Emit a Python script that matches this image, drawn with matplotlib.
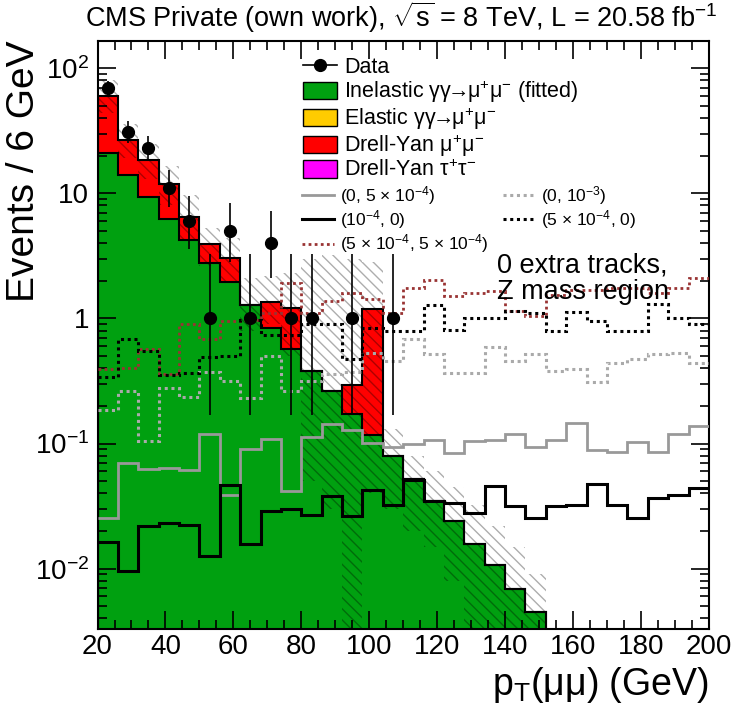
import numpy as np
import matplotlib.pyplot as plt
from matplotlib.patches import Patch
from matplotlib.lines import Line2D
from matplotlib.ticker import MultipleLocator, LogLocator, NullFormatter, FixedLocator, FixedFormatter

plt.rcParams['font.family'] = ['Liberation Sans', 'DejaVu Sans']
plt.rcParams['mathtext.fontset'] = 'custom'
plt.rcParams['mathtext.rm'] = 'Liberation Sans'
plt.rcParams['mathtext.it'] = 'Liberation Sans:italic'
plt.rcParams['mathtext.default'] = 'regular'
plt.rcParams['hatch.linewidth'] = 1.0

# ---------------------------------------------------------------
# binning (6 GeV bins)
# ---------------------------------------------------------------
edges = np.arange(20, 201, 6)

# data points (bin centres, counts, Poisson errors)
data_pt = [23, 29, 35, 41, 47, 53, 59, 65, 71, 77, 83, 95, 107]
data_n = [70, 31, 23, 11, 6, 1, 5, 1, 4, 1, 1, 1, 1]
data_elo = [8.35, 5.55, 4.77, 3.28, 2.38, 0.83, 2.16, 0.83, 1.91, 0.83, 0.83, 0.83, 0.83]
data_ehi = [9.38, 6.63, 5.86, 4.39, 3.58, 2.30, 3.38, 2.30, 3.16, 2.30, 2.30, 2.30, 2.30]

# stacked backgrounds
inelastic = [20.8, 13.9, 9.3, 6.27, 4.2, 2.79, 1.94, 1.29, 0.842, 0.572, 0.38, 0.262,
             0.171, 0.116, 0.079, 0.052, 0.035, 0.024, 0.0156, 0.0106, 0.0069, 0.0045]
dy_mumu = [39.2, 12.6, 9.1, 5.6, 2.27, 1.17, 1.12, 0.0, 0.51, 0.65, 0.0, 0.0,
           0.12, 1.08, 0, 0, 0, 0, 0, 0, 0, 0]

# MC uncertainty band
band_lo = [44, 19, 13, 8.0, 4.3, 2.6, 2.0, 0.8, 0.9, 0.5, 0.05, 0.03,
           0.001, 0.04, 0.03, 0.02, 0.015, 0.008, 0.001, 0.001, 0.001, 0.002]
band_hi = [80, 36, 25, 16.5, 9.7, 5.3, 4.4, 2.1, 2.2, 2.3, 3.0, 3.2,
           3.0, 2.8, 0.13, 0.08, 0.06, 0.045, 0.032, 0.022, 0.015, 0.009]

# anomalous coupling signals (a0W, aCW)
sig_0_5e4 = [0.0254, 0.070, 0.0627, 0.0637, 0.0612, 0.119, 0.039, 0.091, 0.109, 0.0415,
             0.113, 0.144, 0.129, 0.101, 0.093, 0.100, 0.107, 0.084, 0.104, 0.106,
             0.120, 0.093, 0.106, 0.146, 0.089, 0.086, 0.103, 0.086, 0.120, 0.137]
sig_1e4_0 = [0.0163, 0.0095, 0.0218, 0.0232, 0.0225, 0.0126, 0.047, 0.0158, 0.0291, 0.030,
             0.027, 0.038, 0.0262, 0.0423, 0.0325, 0.0515, 0.0346, 0.0335, 0.0279, 0.0461,
             0.0315, 0.0254, 0.0315, 0.0325, 0.0479, 0.0325, 0.0254, 0.0367, 0.039, 0.0442]
sig_5e4_5e4 = [0.396, 0.40, 0.565, 0.36, 0.895, 0.679, 0.95, 0.97, 1.1, 1.93,
               1.11, 1.38, 1.6, 1.42, 1.11, 1.76, 2.03, 1.51, 1.6, 1.65,
               1.14, 1.04, 1.55, 1.7, 1.7, 1.75, 1.75, 1.6, 1.76, 2.12]
sig_0_1e3 = [0.187, 0.265, 0.104, 0.279, 0.236, 0.372, 0.315, 0.232, 0.50, 0.265,
             0.315, 0.36, 0.37, 0.53, 0.46, 0.68, 0.52, 0.367, 0.367, 0.593,
             0.456, 0.52, 0.379, 0.396, 0.31, 0.437, 0.47, 0.52, 0.53, 0.44]
sig_5e4_0 = [0.341, 0.679, 0.548, 0.356, 0.363, 0.49, 0.50, 0.97, 0.731, 0.731,
             0.895, 0.895, 0.476, 0.842, 0.79, 0.80, 1.29, 0.806, 1.01, 1.01,
             1.14, 1.11, 0.79, 1.12, 0.95, 0.79, 0.79, 1.3, 1.0, 0.9]

green = '#00a010'
red = '#ff0000'
yellow = '#ffcc00'
magenta = '#ff00ff'
darkred = '#993333'

fig = plt.figure(figsize=(7.36, 7.13), dpi=100)
ax = fig.add_axes([0.1325, 0.118, 0.8307, 0.825])

nbk = len(inelastic)
e_bk = edges[:nbk + 1]
inel = np.array(inelastic)
total = inel + np.array(dy_mumu)

# stack
ax.stairs(inel, e_bk, baseline=1e-5, fill=True, color=green, zorder=1)
ax.stairs(total, e_bk, baseline=inel, fill=True, color=red, zorder=1)
ax.stairs(inel, e_bk, baseline=1e-5, color='black', lw=1.5, zorder=2)
ax.stairs(total, e_bk, baseline=1e-5, color='black', lw=1.5, zorder=2)

# uncertainty band
ax.stairs(band_hi, e_bk, baseline=band_lo, fill=True, facecolor='none',
          edgecolor=(0, 0, 0, 0.32), hatch='\\\\\\', lw=0, zorder=3)

# signal curves
dots = (0, (1, 1.2))
ax.stairs(sig_0_5e4, edges, baseline=None, color='#999999', lw=2.0, zorder=4)
ax.stairs(sig_1e4_0, edges, baseline=None, color='black', lw=2.2, zorder=4)
ax.stairs(sig_5e4_5e4, edges, baseline=None, color=darkred, lw=2.0, ls=dots, zorder=4)
ax.stairs(sig_0_1e3, edges, baseline=None, color='#aaaaaa', lw=2.2, ls=dots, zorder=4)
ax.stairs(sig_5e4_0, edges, baseline=None, color='black', lw=2.2, ls=dots, zorder=4)

# data
ax.errorbar(data_pt, data_n, yerr=[data_elo, data_ehi], fmt='o', color='black',
            ms=8.5, elinewidth=1.2, capsize=0, zorder=5)

ax.set_yscale('log')
ax.set_xlim(20, 200)
ax.set_ylim(0.0033, 166)

# axes styling
ax.xaxis.set_major_locator(MultipleLocator(20))
ax.xaxis.set_minor_locator(MultipleLocator(5))
ax.yaxis.set_major_locator(FixedLocator([1e-2, 1e-1, 1, 10, 100]))
ax.yaxis.set_major_formatter(FixedFormatter(['10$^{-2}$', '10$^{-1}$', '1', '10', '10$^{2}$']))
ax.yaxis.set_minor_locator(LogLocator(base=10, subs=np.arange(2, 10), numticks=20))
ax.yaxis.set_minor_formatter(NullFormatter())
ax.tick_params(which='both', direction='in', top=True, right=True, width=1.2, labelsize=20)
ax.tick_params(which='major', length=13, pad=6)
ax.tick_params(axis='x', which='major', pad=4)
ax.tick_params(which='minor', length=6.5)
for s in ax.spines.values():
    s.set_linewidth(1.5)

ax.set_xlabel('p$_{T}$(μμ) (GeV)', fontsize=27, loc='right')
ax.xaxis.set_label_coords(1.0, -0.062)
ax.set_ylabel('Events / 6 GeV', fontsize=28, loc='top')
ax.yaxis.set_label_coords(-0.09, 1.0)

fig.text(0.545, 0.976, 'CMS Private (own work), $\\sqrt{s}$ = 8 TeV, L = 20.58 fb$^{-1}$',
         ha='center', va='center', fontsize=19.5)

ax.text(0.653, 0.64, '0 extra tracks,\nZ mass region', transform=ax.transAxes,
        ha='left', va='top', fontsize=19.5, linespacing=1.05, zorder=6)

# legends
h1 = [Line2D([], [], color='black', marker='o', ms=8.5, lw=1.2),
      Patch(facecolor=green, edgecolor='black'),
      Patch(facecolor=yellow, edgecolor='black'),
      Patch(facecolor=red, edgecolor='black'),
      Patch(facecolor=magenta, edgecolor='black')]
arrow = '$\\!\\!\\rightarrow\\!\\!$'
l1 = ['Data',
      'Inelastic γγ' + arrow + 'μ$^{+}$μ$^{-}$ (fitted)',
      'Elastic γγ' + arrow + 'μ$^{+}$μ$^{-}$',
      'Drell-Yan μ$^{+}$μ$^{-}$',
      'Drell-Yan τ$^{+}$τ$^{-}$']
leg1 = ax.legend(h1, l1, loc='upper left', bbox_to_anchor=(0.31, 1.0), frameon=False,
                 fontsize=15.5, handlelength=1.55, handleheight=0.85, labelspacing=0.03,
                 handletextpad=0.35, borderpad=0.25)
ax.add_artist(leg1)

h2 = [Line2D([], [], color='#999999', lw=2.0),
      Line2D([], [], color='black', lw=2.2),
      Line2D([], [], color=darkred, lw=2.0, ls=dots),
      Line2D([], [], color='#aaaaaa', lw=2.2, ls=dots),
      Line2D([], [], color='black', lw=2.2, ls=dots)]
l2 = ['(0, 5 × 10$^{-4}$)', '(10$^{-4}$, 0)', '(5 × 10$^{-4}$, 5 × 10$^{-4}$)',
      '(0, 10$^{-3}$)', '(5 × 10$^{-4}$, 0)']
ax.legend(h2, l2, loc='upper left', bbox_to_anchor=(0.315, 0.777), frameon=False,
          ncols=2, fontsize=12.5, handlelength=1.8, labelspacing=0.08,
          handletextpad=0.4, columnspacing=0.8, borderpad=0.2)

fig.savefig('out.png', dpi=100)
